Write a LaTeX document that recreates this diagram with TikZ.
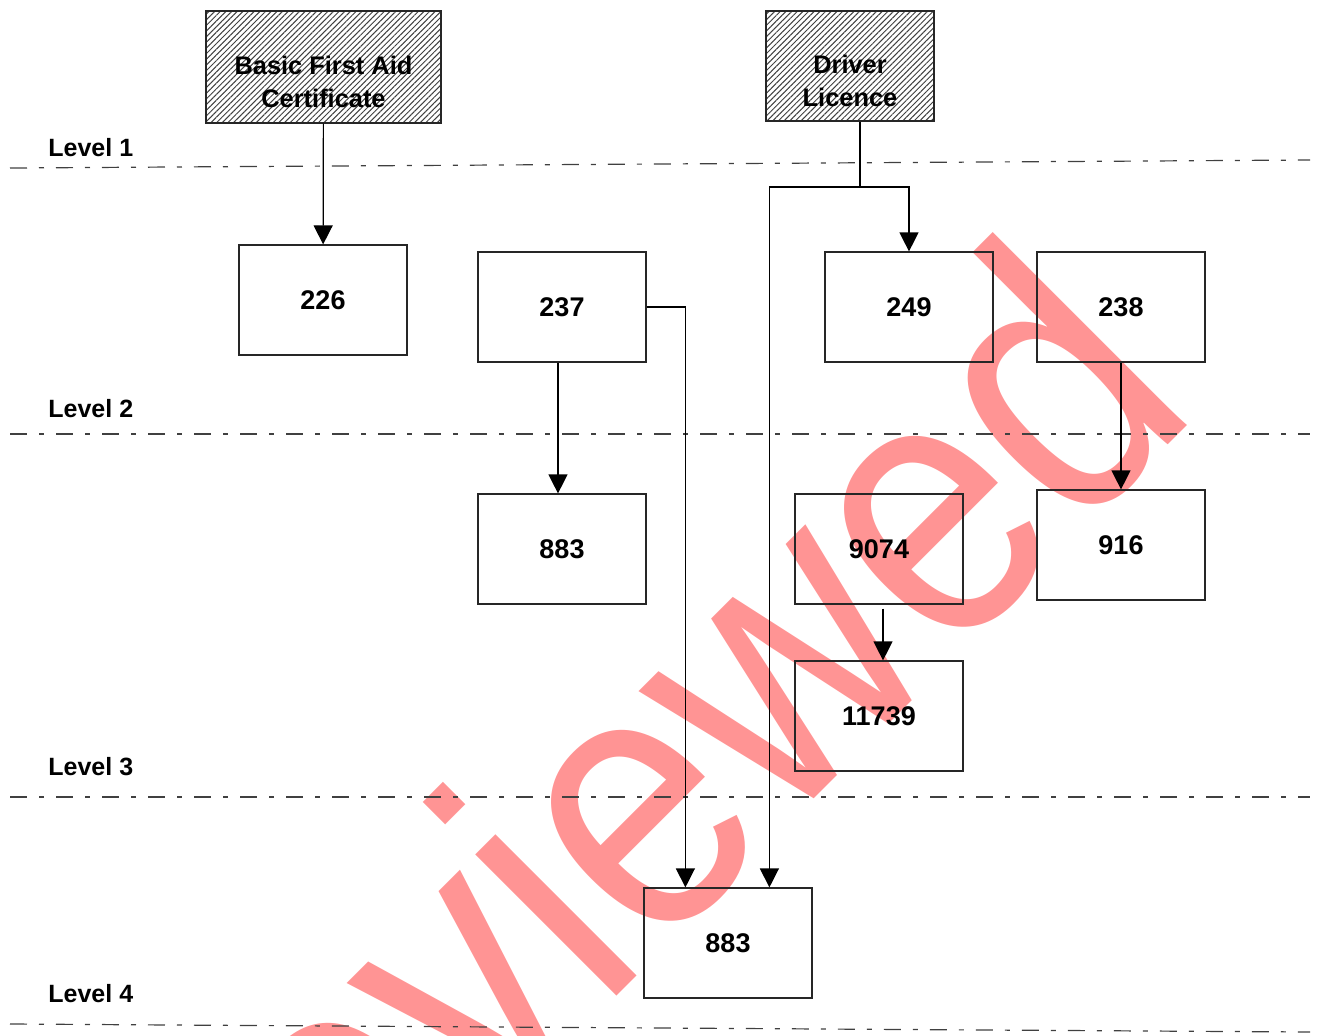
\documentclass[tikz,border=0pt]{standalone}
\usepackage{fontspec}
\setmainfont{Liberation Sans}
\usetikzlibrary{arrows.meta}
\usetikzlibrary{patterns.meta}
\newcommand*{\reqtext}[2]{\raisebox{-8.5pt}[\height][\depth]{\begin{tabular}{@{}c@{}}#1\\#2\end{tabular}}}
\tikzstyle{unit}=[draw=black!85, line width=0.6pt, minimum width=84pt, minimum height=55pt, inner sep=0pt, font=\fontsize{13.5}{16}\selectfont\bfseries]
\tikzstyle{req}=[unit, pattern={Lines[angle=45,distance=2pt,line width=0.5pt]}, pattern color=black!75, font=\fontsize{12.7}{16.5}\selectfont\bfseries]
\tikzstyle{lvl}=[anchor=west, inner sep=0pt, font=\fontsize{12.5}{15}\selectfont\bfseries]
\tikzstyle{lvlline}=[black!75, line width=0.6pt, dash pattern=on 8.5pt off 6pt on 2.5pt off 6pt]
\tikzstyle{link}=[black, line width=0.6pt, -{Triangle[length=9.5pt,width=9.5pt]}]
\begin{document}
\begin{tikzpicture}[x=0.5pt, y=-0.5pt]
    \useasboundingbox (0,0) rectangle (1319,1035);
    % stamp
    \begin{scope}
        \clip (0,0) rectangle (1319,1035);
        \node [anchor=base west, rotate=45, inner sep=0pt, text=red, text opacity=0.42, font=\fontsize{189}{195}\selectfont] (stamp) at (193,1420) {\scalebox{0.86}[1]{Reviewed}};
    \end{scope}
    % levels
    \draw [lvlline] (10,168) -- (1310,160);
    \draw [lvlline] (10,434) -- (1310,434);
    \draw [lvlline] (10,797) -- (1310,797);
    \draw [lvlline] (10,1024) -- (1310,1032);
    \node [lvl] (lvlone) at (48,148) {Level 1};
    \node [lvl] (lvltwo) at (48,409) {Level 2};
    \node [lvl] (lvlthree) at (48,767) {Level 3};
    \node [lvl] (lvlfour) at (48,994) {Level 4};
    % requirements
    \node [req, minimum width=117.5pt, minimum height=56pt] (firstaid) at (323.5,67) {\reqtext{Basic First Aid}{Certificate}};
    \node [req] (licence) at (850,66) {\reqtext{Driver}{Licence}};
    % units
    \node [unit] (u226) at (323,300) {226};
    \node [unit] (u237) at (562,307) {237};
    \node [unit] (u249) at (909,307) {249};
    \node [unit] (u238) at (1121,307) {238};
    \node [unit] (u883a) at (562,549) {883};
    \node [unit] (u9074) at (879,549) {9074};
    \node [unit] (u916) at (1121,545) {916};
    \node [unit] (u11739) at (879,716) {11739};
    \node [unit] (u883b) at (728,943) {883};
    % links
    \coordinate (split) at (860,187);
    \draw [link] (firstaid) -- (u226);
    \draw [line width=0.6pt] (licence.south -| split) -- (split);
    \draw [link] (split) -| (u249.north);
    \draw [link] (split) -| ([xshift=63pt]u883b.north west);
    \draw [link] (u237.east) -| ([xshift=21pt]u883b.north west);
    \draw [link] ([xshift=-2pt]u237.south) -- ([xshift=-2pt]u883a.north);
    \draw [link] (u238) -- (u916);
    \draw [link] ([xshift=2pt,yshift=-2pt]u9074.south) -- ([xshift=2pt]u11739.north);
\end{tikzpicture}
\end{document}
